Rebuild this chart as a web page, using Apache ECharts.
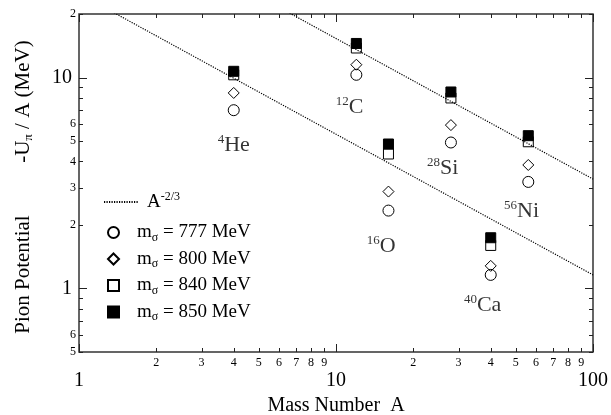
<!DOCTYPE html>
<html>
<head>
<meta charset="utf-8">
<title>Pion potential</title>
<script src="https://cdn.jsdelivr.net/npm/echarts@6/dist/echarts.min.js"></script>
<style>
  html, body { margin: 0; padding: 0; background: #fff; }
  #chart { width: 611px; height: 415px; }
</style>
</head>
<body>
<div id="chart"></div>
<script>
// nuclei and their mass numbers
var massA = [4, 12, 16, 28, 40, 56];
var massNum = ['4', '12', '16', '28', '40', '56'];
var nuclei = ['He', 'C', 'O', 'Si', 'Ca', 'Ni'];

// -U_pi / A (MeV) for each sigma mass
var u777 = [7.0, 10.3, 2.34, 4.92, 1.16, 3.2];
var u800 = [8.45, 11.5, 2.88, 5.95, 1.28, 3.85];
var u840 = [10.3, 13.8, 4.34, 8.0, 1.6, 4.96];
var u850 = [10.7, 14.5, 4.84, 8.54, 1.74, 5.3];

// where the nucleus names sit
var labelA = [4.0, 11.3, 15.0, 26.0, 37.2, 52.7];
var labelU = [4.79, 7.25, 1.58, 3.72, 0.836, 2.33];

// A^-2/3 guide lines (end points)
var lowLineA = [1, 100], lowLineU = [25, 1.16];
var highLineA = [1, 100], highLineU = [71, 3.3];

// ticks
var xMajorTicks = [1, 10, 100];
var xMinorTicks = [2, 3, 4, 5, 6, 7, 8, 9, 20, 30, 40, 50, 60, 70, 80, 90];
var xMinorText = ['2', '3', '4', '5', '6', '7', '8', '9', '2', '3', '4', '5', '6', '7', '8', '9'];
var yMajorTicks = [1, 10];
var yMinorTicks = [0.5, 0.6, 0.7, 0.8, 0.9, 2, 3, 4, 5, 6, 7, 8, 9, 20];
var yMinorLabelVals = [0.5, 0.6, 2, 3, 4, 5, 6, 20];
var yMinorText = ['5', '6', '2', '3', '4', '5', '6', '2'];

var FONT = 'Liberation Serif';
var chart = echarts.init(document.getElementById('chart'));

function pts(xs, ys) {
  return xs.map(function (x, i) { return [x, ys[i]]; });
}

// tick data: [x, y, kind(0 = x axis, 1 = y axis), length]
var tickData = [];
xMajorTicks.forEach(function (v) { tickData.push([v, 1, 0, 8]); });
xMinorTicks.forEach(function (v) { tickData.push([v, 1, 0, 4]); });
yMajorTicks.forEach(function (v) { tickData.push([1, v, 1, 8]); });
yMinorTicks.forEach(function (v) { tickData.push([1, v, 1, 4]); });

var smallLabelData = [];
var smallLabelText = [];
xMinorTicks.forEach(function (v, i) { smallLabelData.push([v, 1, 0]); smallLabelText.push(xMinorText[i]); });
yMinorLabelVals.forEach(function (v, i) { smallLabelData.push([1, v, 1]); smallLabelText.push(yMinorText[i]); });

function renderTick(params, api) {
  var cs = params.coordSys;
  var kind = api.value(2), len = api.value(3);
  var st = { stroke: '#222', lineWidth: 1 };
  if (kind === 0) {
    var x = Math.round(api.coord([api.value(0), 1])[0]) + 0.5;
    var yb = cs.y + cs.height, yt = cs.y;
    return { type: 'group', children: [
      { type: 'line', shape: { x1: x, y1: yb, x2: x, y2: yb - len }, style: st },
      { type: 'line', shape: { x1: x, y1: yt, x2: x, y2: yt + len }, style: st }
    ] };
  }
  var y = Math.round(api.coord([1, api.value(1)])[1]) + 0.5;
  var xl = cs.x, xr = cs.x + cs.width;
  return { type: 'group', children: [
    { type: 'line', shape: { x1: xl, y1: y, x2: xl + len, y2: y }, style: st },
    { type: 'line', shape: { x1: xr, y1: y, x2: xr - len, y2: y }, style: st }
  ] };
}

function renderSmallLabel(params, api) {
  var cs = params.coordSys;
  var txt = smallLabelText[params.dataIndex];
  if (api.value(2) === 0) {
    var x = api.coord([api.value(0), 1])[0];
    return { type: 'text', style: { x: x, y: cs.y + cs.height + 5, text: txt, align: 'center', verticalAlign: 'top',
      fontSize: 12, fontFamily: FONT, fill: '#000' } };
  }
  var y = api.coord([1, api.value(1)])[1];
  return { type: 'text', style: { x: cs.x - 3, y: y, text: txt, align: 'right', verticalAlign: 'middle',
    fontSize: 12, fontFamily: FONT, fill: '#000' } };
}

function markerSeries(name, data, symbol, size, fill) {
  return {
    name: name, type: 'scatter', data: pts(massA, data),
    symbol: symbol, symbolSize: size, silent: true,
    itemStyle: { color: fill, borderColor: '#000', borderWidth: 1, opacity: 1 }
  };
}

var lineStyle = { color: '#000', width: 1.2, type: [1.2, 1.3] };

var option = {
  animation: false,
  textStyle: { fontFamily: FONT, color: '#000' },
  grid: {
    left: 79, right: 18, top: 14, bottom: 63, containLabel: false, outerBoundsMode: 'none',
    show: true, borderColor: '#333', borderWidth: 1.5, backgroundColor: 'transparent'
  },
  xAxis: {
    type: 'log', logBase: 10, min: 1, max: 100,
    axisLine: { show: false }, axisTick: { show: false }, splitLine: { show: false },
    axisLabel: { fontSize: 20, margin: 19, color: '#000', fontFamily: FONT },
    name: 'Mass Number  A', nameLocation: 'middle', nameGap: 39,
    nameTextStyle: { fontSize: 20, fontFamily: FONT, color: '#000' }
  },
  yAxis: {
    type: 'log', logBase: 10, min: 0.5, max: 20,
    axisLine: { show: false }, axisTick: { show: false }, splitLine: { show: false },
    axisLabel: {
      fontSize: 20, margin: 7, color: '#000', fontFamily: FONT,
      formatter: function (v) {
        var r = Math.round(v * 1000) / 1000;
        return (r === 1 || r === 10) ? String(r) : '';
      }
    },
    name: '{t|Pion Potential          -U}{s|π}{t| / A (MeV)}',
    nameLocation: 'middle', nameRotate: 90, nameGap: 44,
    nameTextStyle: {
      padding: [0, 8, 0, 0],
      rich: {
        t: { fontSize: 21, lineHeight: 24, fontFamily: FONT, color: '#000' },
        s: { fontSize: 13, lineHeight: 9, verticalAlign: 'bottom', fontFamily: FONT, color: '#000' }
      }
    }
  },
  legend: [{
    data: ['A-2/3'], orient: 'vertical', left: 103, top: 191, padding: 0,
    itemWidth: 35, itemHeight: 10, selectedMode: false,
    formatter: function () { return '{t|A}{p|-2/3}'; },
    textStyle: {
      padding: [0, 0, 0, 3],
      rich: {
        t: { fontSize: 19, lineHeight: 22, fontFamily: FONT, color: '#000' },
        p: { fontSize: 12, lineHeight: 13, verticalAlign: 'top', fontFamily: FONT, color: '#000' }
      }
    }
  }, {
    data: ['777', '800', '840', '850'], orient: 'vertical', left: 107, top: 223, padding: 0,
    itemWidth: 11, itemHeight: 11, itemGap: 6, selectedMode: false,
    formatter: function (name) { return '{t|m}{s|σ}{t| = ' + name + ' MeV}'; },
    textStyle: {
      padding: [0, 0, 0, 13],
      rich: {
        t: { fontSize: 19, lineHeight: 22, fontFamily: FONT, color: '#000' },
        s: { fontSize: 12, lineHeight: 8, verticalAlign: 'bottom', fontFamily: FONT, color: '#000' }
      }
    }
  }],
  series: [
    { name: 'A-2/3', type: 'line', data: pts(lowLineA, lowLineU), symbol: 'none', silent: true,
      itemStyle: { color: 'transparent' }, lineStyle: lineStyle, clip: true },
    { name: 'A-2/3', type: 'line', data: pts(highLineA, highLineU), symbol: 'none', silent: true,
      itemStyle: { color: 'transparent' }, lineStyle: lineStyle, clip: true },
    markerSeries('777', u777, 'circle', 11, 'transparent'),
    markerSeries('800', u800, 'diamond', 11, 'transparent'),
    markerSeries('840', u840, 'rect', 10, 'transparent'),
    markerSeries('850', u850, 'rect', 10, '#000'),
    {
      type: 'scatter', data: pts(labelA, labelU), symbolSize: 1, silent: true,
      itemStyle: { color: 'transparent' },
      label: {
        show: true, position: 'inside',
        formatter: function (p) { return '{sup|' + massNum[p.dataIndex] + '}{el|' + nuclei[p.dataIndex] + '}'; },
        rich: {
          sup: { fontSize: 13, lineHeight: 13, verticalAlign: 'top', fontFamily: FONT, color: '#000' },
          el: { fontSize: 22, lineHeight: 24, fontFamily: FONT, color: '#000' }
        }
      }
    },
    { type: 'custom', renderItem: renderTick, data: tickData, silent: true, clip: false, z: 5 },
    { type: 'custom', renderItem: renderSmallLabel, data: smallLabelData, silent: true, clip: false, z: 5 }
  ]
};
chart.setOption(option);
</script>
</body>
</html>
